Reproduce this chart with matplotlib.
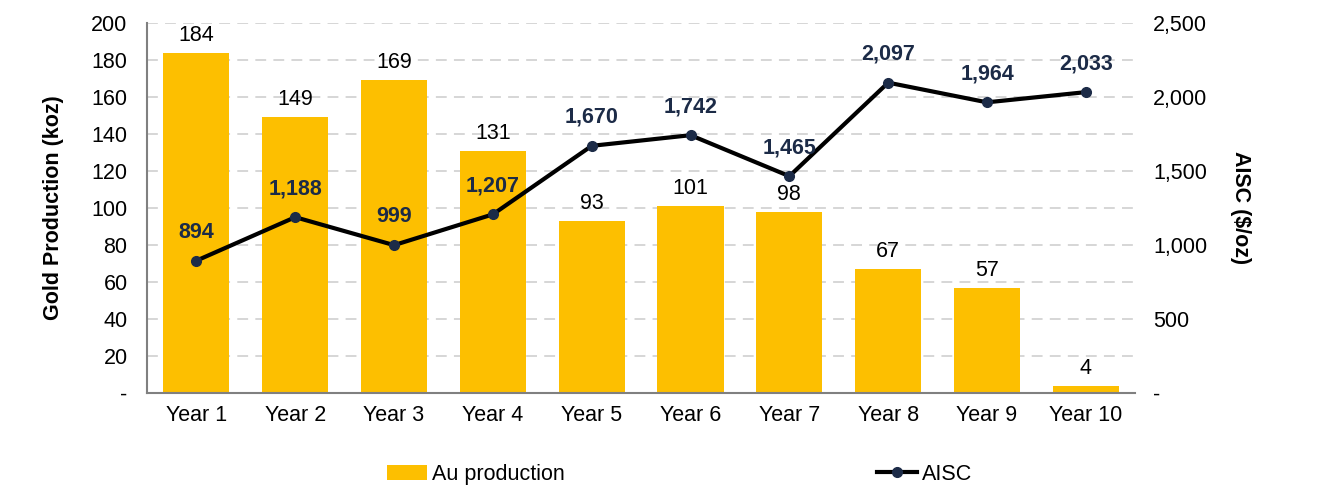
import numpy as np
import matplotlib.pyplot as plt
from matplotlib.ticker import FuncFormatter

plt.rcParams["font.family"] = ["Liberation Sans", "DejaVu Sans"]

years = ["Year 1", "Year 2", "Year 3", "Year 4", "Year 5",
         "Year 6", "Year 7", "Year 8", "Year 9", "Year 10"]
au_production = [184, 149, 169, 131, 93, 101, 98, 67, 57, 4]
aisc = [894, 1188, 999, 1207, 1670, 1742, 1465, 2097, 1964, 2033]

gold = "#FDBF00"
navy = "#1C2B47"
fs = 15.5

fig = plt.figure(figsize=(13.17, 4.96), dpi=100)
ax = fig.add_axes([0.1116, 0.2077, 0.7504, 0.7459])
ax2 = ax.twinx()

x = np.arange(len(years))
ax.bar(x, au_production, width=0.67, color=gold, label="Au production", zorder=2)
for xi, v in zip(x, au_production):
    ax.annotate(f"{v}", (xi, v), xytext=(0, 5), textcoords="offset points",
                ha="center", va="bottom", fontsize=fs, color="black")

ax.set_xlim(-0.5, len(years) - 0.5)
ax.set_ylim(0, 200)
ax.set_yticks(np.arange(0, 201, 20))
ax.yaxis.set_major_formatter(FuncFormatter(lambda v, p: "-" if v == 0 else f"{v:.0f}"))
ax.set_xticks(x)
ax.set_xticklabels(years)
ax.tick_params(axis="both", length=0, labelsize=fs)
ax.tick_params(axis="y", pad=14)
ax.tick_params(axis="x", pad=9)
ax.grid(axis="y", color="#D3D3D3", linestyle=(0, (6, 4)), linewidth=1.3, zorder=0)
ax.set_axisbelow(True)
for s in ["top", "right"]:
    ax.spines[s].set_visible(False)
for s in ["left", "bottom"]:
    ax.spines[s].set_color("#808080")
    ax.spines[s].set_linewidth(1.5)
ax.set_ylabel("Gold Production (koz)", fontsize=fs, fontweight="bold", labelpad=20)

ax2.plot(x, aisc, color="black", linewidth=3, marker="o", markersize=7,
         markerfacecolor=navy, markeredgecolor=navy, label="AISC", zorder=3)
for xi, v in zip(x, aisc):
    ax2.annotate(f"{v:,}", (xi, v), xytext=(0, 13), textcoords="offset points",
                 ha="center", va="bottom", fontsize=fs, fontweight="bold", color=navy)
ax2.set_ylim(0, 2500)
ax2.set_yticks(np.arange(0, 2501, 500))
ax2.yaxis.set_major_formatter(FuncFormatter(lambda v, p: "-" if v == 0 else f"{v:,.0f}"))
ax2.tick_params(axis="y", length=0, labelsize=fs, pad=13)
for s in ["top", "right", "left", "bottom"]:
    ax2.spines[s].set_visible(False)
ax2.set_ylabel("AISC ($/oz)", fontsize=fs, fontweight="bold", rotation=270, labelpad=31)

h1, l1 = ax.get_legend_handles_labels()
h2, l2 = ax2.get_legend_handles_labels()
fig.legend(h1 + h2, l1 + l2, loc="center", bbox_to_anchor=(0.516, 0.044), ncol=2,
           frameon=False, fontsize=fs, columnspacing=14.5, handlelength=1.86,
           handletextpad=0.23)

fig.savefig("out.png", dpi=100)
